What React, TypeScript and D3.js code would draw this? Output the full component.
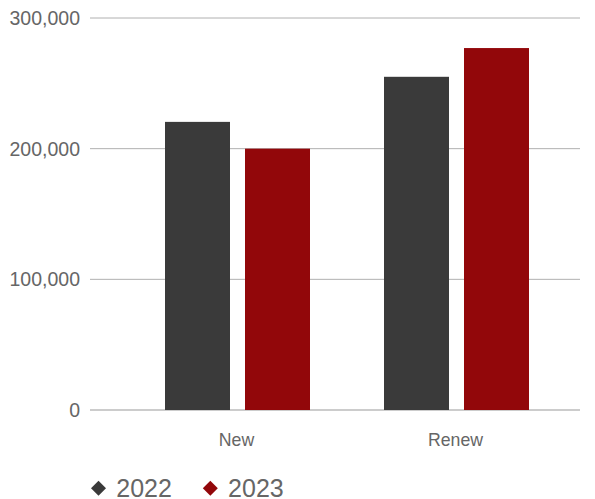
import React from "react";
import * as d3 from "d3";

const categories = ["New", "Renew"];
const seriesNames = ["2022", "2023"];
const values2022 = [220500, 255000];
const values2023 = [200000, 277000];
const yTicks = [0, 100000, 200000, 300000];
const colors = ["#3a3a3a", "#92070a"];

export default function App() {
  const W = 595, H = 499;
  const y = d3.scaleLinear().domain([0, 300000]).range([410, 18]);
  const x = d3.scaleBand().domain(categories).range([128, 566]).paddingInner(0).paddingOuter(0);
  const inner = d3.scaleBand().domain(seriesNames).range([0, 145]).paddingInner(0.1875);
  const series = [values2022, values2023];
  const fmt = d3.format(",");
  const font = "'Liberation Sans', Arial, sans-serif";
  return (
    <svg width={W} height={H} style={{ position: "absolute", left: 0, top: 0 }} fontFamily={font}>
      {yTicks.map((t) => (
        <g key={t}>
          <line x1={90} x2={580} y1={y(t)} y2={y(t)} stroke={t === 0 ? "#999" : "#b0b0b0"} strokeWidth={1} />
          <text x={80} y={y(t) + 7} textAnchor="end" fontSize={19.5} fill="#666">{fmt(t)}</text>
        </g>
      ))}
      {categories.map((c, i) => {
        const cx = (x(c) as number) + x.bandwidth() / 2;
        return (
          <g key={c}>
            {seriesNames.map((s, j) => (
              <rect key={s} x={cx - 72.5 + (inner(s) as number)} width={inner.bandwidth()} y={y(series[j][i])} height={y(0) - y(series[j][i])} fill={colors[j]} />
            ))}
            <text x={cx - 1} y={446} textAnchor="middle" fontSize={17.7} fill="#666">{c}</text>
          </g>
        );
      })}
      {seriesNames.map((s, j) => {
        const lx = 98.5 + j * 111.8;
        return (
          <g key={s}>
            <rect x={lx - 5.3} y={488.3 - 5.3} width={10.6} height={10.6} fill={colors[j]} transform={`rotate(45 ${lx} 488.3)`} />
            <text x={lx + 17.8} y={497.3} fontSize={25} fill="#666">{s}</text>
          </g>
        );
      })}
    </svg>
  );
}
